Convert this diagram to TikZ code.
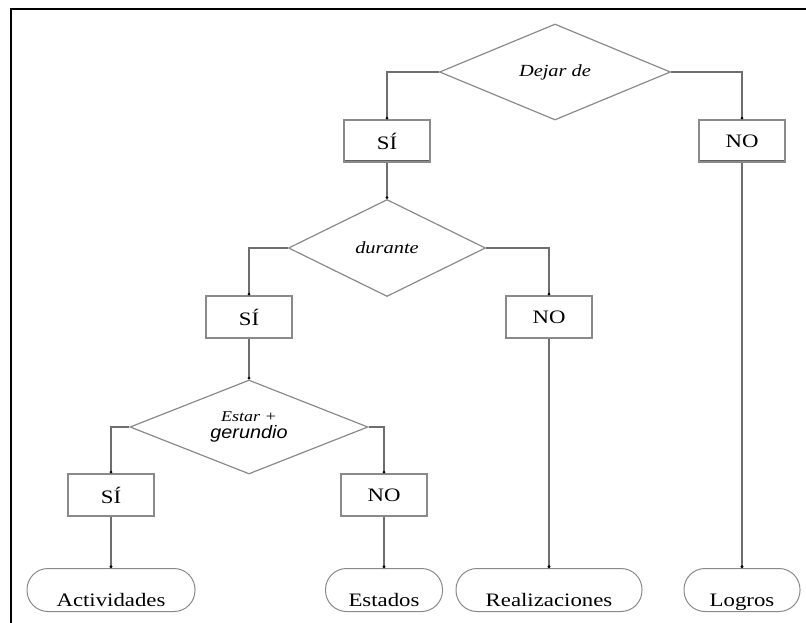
\documentclass[tikz,border=0pt]{standalone}
\usepackage{fontspec}
\setmainfont{Liberation Serif}[FakeStretch=1.2]
\setsansfont{Liberation Sans}[FakeStretch=1.1]
\usetikzlibrary{arrows.meta, positioning}
\usetikzlibrary{shapes.geometric}
\definecolor{linegray}{HTML}{6E6E6E}
\definecolor{boxgray}{HTML}{8A8A8A}
\newcommand\yend{590}

\begin{document}
\begin{tikzpicture}[x=1pt, y=-1pt,
    answerbox/.style={rectangle, draw=boxgray, line width=1.2pt, minimum width=86pt, minimum height=42pt, font=\fontsize{19}{22}\selectfont,
        path picture={\draw[boxgray!70!black, line width=3pt] (path picture bounding box.south west) -- (path picture bounding box.south east);}},
    testdiamond/.style={diamond, draw=boxgray, line width=1.2pt, inner sep=0pt, font=\fontsize{17}{20}\selectfont\itshape},
    classbox/.style={rectangle, rounded corners=21pt, draw=boxgray, line width=1pt, minimum height=43pt, inner ysep=3.5pt, text height=34pt, text depth=2pt, font=\fontsize{19}{22}\selectfont},
    branch/.style={draw=linegray, line width=1.3pt, -{Circle[length=2.6pt, color=black]}}]

    \useasboundingbox (0, 0) rectangle (806, 623);
    \draw [line width=2.5pt] (11, 623) -- (11, 9) -- (806, 9);

    % Dejar de
    \node at (555, 72) [testdiamond, minimum width=231pt, minimum height=96pt] (dejar) {Dejar de};
    \node at (387, 141) [answerbox] (si_d) {SÍ};
    \node at (742, 141) [answerbox] (no_d) {NO};

    \draw [branch] (dejar.west) -| (si_d.north);
    \draw [branch] (dejar.east) -| (no_d.north);

    % durante
    \node at (387, 248) [testdiamond, minimum width=197pt, minimum height=97pt] (durante) {durante};
    \node at (249, 317) [answerbox] (si_du) {SÍ};
    \node at (549, 317) [answerbox] (no_du) {NO};

    \draw [branch] (si_d.south) -- (durante.north);
    \draw [branch] (durante.west) -| (si_du.north);
    \draw [branch] (durante.east) -| (no_du.north);

    % Estar + gerundio
    \node at (249, 427) [testdiamond, aspect=3, minimum width=238pt, minimum height=94pt, align=center, font=\fontsize{15}{17}\selectfont\itshape] (estar) {Estar +\\{\sffamily\fontsize{18}{17}\selectfont gerundio}};
    \node at (111, 495) [answerbox] (si_e) {SÍ};
    \node at (384, 495) [answerbox] (no_e) {NO};

    \draw [branch] (si_du.south) -- (estar.north);
    \draw [branch] (estar.west) -| (si_e.north);
    \draw [branch] (estar.east) -| (no_e.north);

    % Clases
    \node at (111, \yend) [classbox, minimum width=168pt] (act) {Actividades};
    \node at (384, \yend) [classbox, minimum width=117pt] (est) {Estados};
    \node at (549, \yend) [classbox, minimum width=186pt] (rea) {Realizaciones};
    \node at (742, \yend) [classbox, minimum width=116pt] (log) {Logros};

    \draw [branch] (si_e.south) -- (act.north);
    \draw [branch] (no_e.south) -- (est.north);
    \draw [branch] (no_du.south) -- (rea.north);
    \draw [branch] (no_d.south) -- (log.north);

\end{tikzpicture}
\end{document}
